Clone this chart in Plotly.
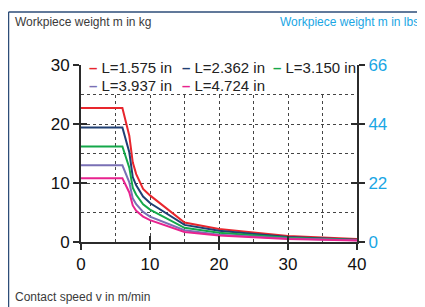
import plotly.graph_objects as go

# ---- data ----
speed = [0, 6, 7, 7.5, 8, 9, 10, 15, 20, 30, 40]
m_L1575 = [22.7, 22.7, 18.0, 13.5, 11.5, 9.0, 7.9, 3.3, 2.2, 1.0, 0.5]
m_L2362 = [19.4, 19.4, 15.2, 11.0, 9.6, 7.7, 6.6, 2.9, 1.9, 0.85, 0.4]
m_L3150 = [16.2, 16.2, 12.6, 9.2, 8.0, 6.4, 5.5, 2.4, 1.55, 0.7, 0.35]
m_L3937 = [13.0, 13.0, 10.1, 7.4, 6.4, 5.1, 4.3, 2.0, 1.25, 0.6, 0.3]
m_L4724 = [10.8, 10.8, 8.4, 6.2, 5.3, 4.3, 3.7, 1.7, 1.1, 0.5, 0.25]
series_names = ["L=1.575 in", "L=2.362 in", "L=3.150 in", "L=3.937 in", "L=4.724 in"]
series_vals = [m_L1575, m_L2362, m_L3150, m_L3937, m_L4724]
colors = ["#e8262d", "#1f3f73", "#14a84a", "#7a70b5", "#e8238f"]
x_ticks = [0, 10, 20, 30, 40]
kg_ticks = [0, 10, 20, 30]
lbs_ticks = [0, 22, 44, 66]

OFF = 8  # default page body margin
W, H = 425 - OFF, 307 - OFF
L, R, T, B = 81 - OFF, 68, 65 - OFF, 65
PW, PH = W - L - R, H - T - B

def px(xw):
    return (xw - OFF - L) / PW

def py(yw):
    return (H - B - (yw - OFF)) / PH

FONT = "Liberation Sans, Arial, sans-serif"
NARROW = "Liberation Sans Narrow, Arial Narrow, Liberation Sans, Arial, sans-serif"
AX = "#2b2b2b"
BLUE = "#1aa6e4"

fig = go.Figure()
for name, vals, c in zip(series_names, series_vals, colors):
    fig.add_trace(go.Scatter(x=speed, y=vals, mode="lines", name=name,
                             line=dict(color=c, width=2), showlegend=False))

# invisible traces to bind the helper axes
fig.add_trace(go.Scatter(x=speed, y=[v * 2.2 for v in m_L1575], xaxis="x", yaxis="y2",
                         mode="lines", line=dict(width=0), opacity=0, hoverinfo="skip", showlegend=False))
fig.add_trace(go.Scatter(x=speed, y=m_L1575, xaxis="x2", yaxis="y3",
                         mode="lines", line=dict(width=0), opacity=0, hoverinfo="skip", showlegend=False))
fig.add_trace(go.Scatter(x=speed, y=[v * 2.2 for v in m_L1575], xaxis="x2", yaxis="y4",
                         mode="lines", line=dict(width=0), opacity=0, hoverinfo="skip", showlegend=False))

grid = dict(showgrid=True, griddash="dot", gridcolor="#444", gridwidth=1, ticks="")

fig.update_layout(
    width=W, height=H,
    margin=dict(l=L, r=R, t=T, b=B),
    paper_bgcolor="white", plot_bgcolor="white",
    font=dict(family=FONT, color="#111"),
    xaxis=dict(range=[0, 40], tickvals=x_ticks, ticks="outside", ticklen=6, tickwidth=2,
               tickcolor=AX, showline=True, linecolor=AX, linewidth=2, showgrid=False,
               zeroline=False, tickfont=dict(size=17, color="#111"),
               minor=dict(tickvals=[5, 10, 15, 20, 25, 30, 35], **grid), automargin=False),
    yaxis=dict(range=[0, 30], tickvals=kg_ticks, ticks="outside", ticklen=6, tickwidth=2,
               tickcolor=AX, showline=True, linecolor=AX, linewidth=2, showgrid=False,
               zeroline=False, tickfont=dict(size=17, color="#111"),
               minor=dict(tickvals=[5, 10, 15, 20, 25], **grid), automargin=False),
    yaxis2=dict(range=[0, 66], tickvals=lbs_ticks, overlaying="y", side="right", anchor="x",
                ticks="outside", ticklen=6, tickwidth=2, tickcolor=AX, showline=True,
                linecolor=AX, linewidth=2, showgrid=False, zeroline=False,
                tickfont=dict(size=17, color=BLUE), automargin=False),
    xaxis2=dict(range=[0, 40], tickvals=x_ticks, overlaying="x", anchor="y", ticks="inside",
                ticklen=6, tickwidth=2, tickcolor=AX, showticklabels=False, showline=False,
                showgrid=False, zeroline=False, automargin=False),
    yaxis3=dict(range=[0, 30], tickvals=kg_ticks, overlaying="y", anchor="x2", ticks="inside",
                ticklen=6, tickwidth=2, tickcolor=AX, showticklabels=False, showline=False,
                showgrid=False, zeroline=False, automargin=False),
    yaxis4=dict(range=[0, 66], tickvals=lbs_ticks, overlaying="y", side="right", anchor="x2",
                ticks="inside", ticklen=6, tickwidth=2, tickcolor=AX, showticklabels=False,
                showline=False, showgrid=False, zeroline=False, automargin=False),
)

# mask the grid in the legend band and draw the frame
fig.add_shape(type="rect", xref="x", yref="y", x0=0.1, x1=39.9, y0=25.25, y1=30,
              fillcolor="white", line=dict(width=0), layer="between")
FR = "#2d4d78"
fig.add_shape(type="line", xref="paper", yref="paper", x0=px(8.5), x1=px(8.5), y0=py(12), y1=py(320),
              line=dict(color=FR, width=1.5))
fig.add_shape(type="line", xref="paper", yref="paper", x0=px(8.5), x1=px(440), y0=py(12), y1=py(12),
              line=dict(color=FR, width=1.5))

# titles
TS = 12
fig.add_annotation(text="Workpiece weight m in kg", xref="paper", yref="paper", x=px(13), y=py(22),
                   xanchor="left", yanchor="middle", showarrow=False,
                   font=dict(family=NARROW, size=TS, color="#3a3a3a"))
fig.add_annotation(text="Workpiece weight m in lbs", xref="paper", yref="paper", x=px(421), y=py(22),
                   xanchor="right", yanchor="middle", showarrow=False,
                   font=dict(family=NARROW, size=TS, color=BLUE))
fig.add_annotation(text="Contact speed v in m/min", xref="paper", yref="paper", x=px(13), y=py(297),
                   xanchor="left", yanchor="middle", showarrow=False,
                   font=dict(family=NARROW, size=TS, color="#3a3a3a"))

# legend as text
leg_pos = [(87, 68), (180, 68), (271, 68), (87, 85), (180, 85)]
for (lx, ly), name, c in zip(leg_pos, series_names, colors):
    fig.add_annotation(text=f'<span style="color:{c}"><b>–</b></span> {name}', xref="paper", yref="paper",
                       x=px(lx), y=py(ly), xanchor="left", yanchor="middle", showarrow=False,
                       font=dict(family=FONT, size=15, color="#222"))

fig.write_html("out.html")
